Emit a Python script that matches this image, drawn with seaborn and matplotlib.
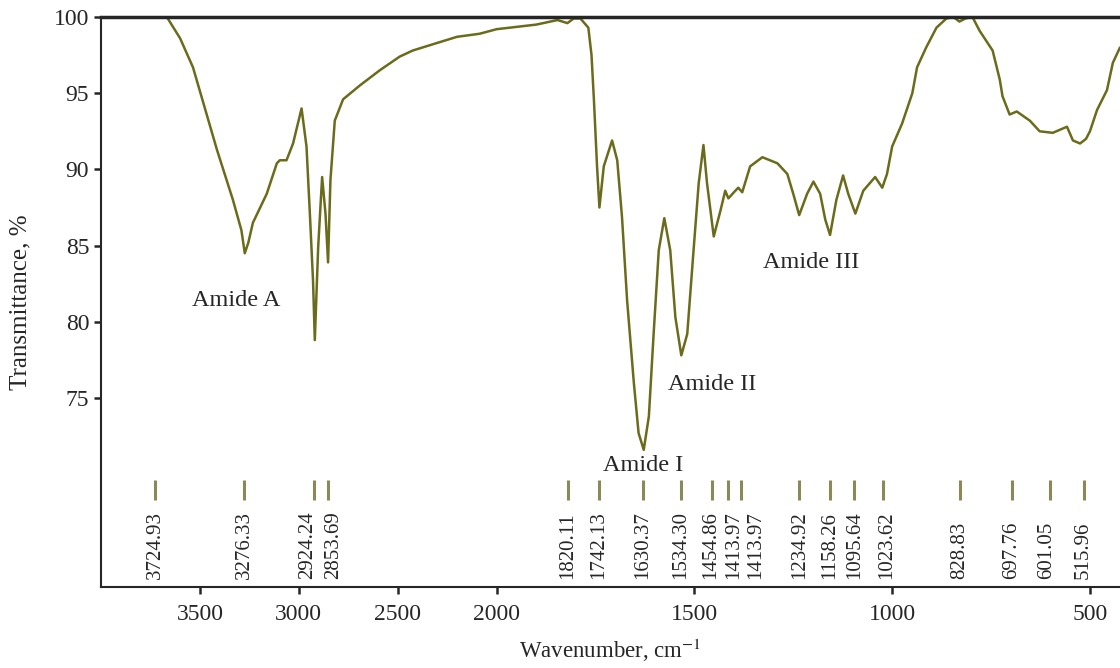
import numpy as np
import pandas as pd
import matplotlib
matplotlib.use("Agg")
import matplotlib.pyplot as plt
import seaborn as sns

# FTIR spectrum (wavenumber, cm-1 / transmittance, %)
wavenumber = [4000, 3800, 3667, 3600, 3535, 3470, 3414, 3333, 3290, 3273, 3255, 3232,
              3162, 3111, 3096, 3062, 3029, 2986, 2961, 2944, 2928, 2919, 2902, 2882,
              2865, 2852, 2840, 2818, 2776, 2692, 2591, 2490, 2424, 2300,
              2200, 2086, 2000, 1900, 1846, 1821, 1805, 1788, 1768, 1760, 1754, 1746,
              1740, 1729, 1708, 1695, 1683, 1670, 1653, 1641, 1628, 1615, 1603, 1590,
              1576, 1561, 1548, 1533, 1518, 1502, 1489, 1477, 1468, 1451, 1434, 1422,
              1414, 1400, 1389, 1379, 1359, 1328, 1290, 1265, 1250, 1235, 1215, 1199,
              1182, 1169, 1157, 1141, 1124, 1111, 1093, 1073, 1043, 1025, 1013, 1000,
              975, 949, 937, 914, 888, 863, 845, 830, 815, 797, 779, 746, 728, 721,
              703, 685, 652, 627, 594, 558, 543, 525, 510, 500, 482, 457, 442, 424]
transmittance = [100.0, 100.0, 100.0, 98.6, 96.7, 93.8, 91.3, 88.0, 86.0, 84.5, 85.2, 86.5,
                 88.4, 90.4, 90.6, 90.6, 91.7, 94.0, 91.5, 87.1, 82.7, 78.8, 84.9, 89.5,
                 87.1, 83.9, 89.3, 93.2, 94.6, 95.5, 96.5, 97.4, 97.8, 98.3,
                 98.7, 98.9, 99.2, 99.5, 99.8, 99.6, 99.9, 99.9, 99.3, 97.5, 94.6, 90.2,
                 87.5, 90.2, 91.9, 90.6, 86.9, 81.4, 76.0, 72.7, 71.6, 73.8, 79.2, 84.7,
                 86.8, 84.7, 80.3, 77.8, 79.2, 84.7, 89.1, 91.6, 89.1, 85.6, 87.3, 88.6,
                 88.1, 88.5, 88.8, 88.5, 90.2, 90.8, 90.4, 89.7, 88.4, 87.0, 88.4, 89.2,
                 88.4, 86.7, 85.7, 88.0, 89.6, 88.4, 87.1, 88.6, 89.5, 88.8, 89.7, 91.5,
                 93.0, 95.0, 96.7, 98.0, 99.3, 99.9, 100.0, 99.7, 99.9, 100.0, 99.1, 97.8,
                 95.9, 94.8, 93.6, 93.8, 93.2, 92.5, 92.4, 92.8, 91.9, 91.7, 92.0, 92.5,
                 93.9, 95.2, 97.0, 98.0]

peak_pos = [3724.93, 3276.33, 2924.24, 2853.69, 1820.11, 1742.13, 1630.37, 1534.30,
            1454.86, 1413.97, 1382.0, 1234.92, 1158.26, 1095.64, 1023.62, 828.83,
            697.76, 601.05, 515.96]
peak_labels = ["3724.93", "3276.33", "2924.24", "2853.69", "1820.11", "1742.13",
               "1630.37", "1534.30", "1454.86", "1413.97", "1413.97", "1234.92",
               "1158.26", "1095.64", "1023.62", "828.83", "697.76", "601.05", "515.96"]

band_names = ["Amide A", "Amide I", "Amide II", "Amide III"]
band_x = [3318, 1629, 1455, 1205]
band_y = [81.4, 70.6, 75.9, 83.9]

df = pd.DataFrame({"wn": wavenumber, "T": transmittance})

sns.set_style("ticks")
plt.rcParams["font.family"] = ["Liberation Serif", "DejaVu Serif"]
plt.rcParams["mathtext.fontset"] = "stix"

fig = plt.figure(figsize=(11.2, 6.68), dpi=100)
ax = fig.add_axes([101 / 1120, 1 - 587 / 668, 1 - 101 / 1120, (587 - 17) / 668])


# wavenumber axis is compressed by half above 2000 cm-1
def fwd(x):
    x = np.asarray(x, dtype=float)
    return np.where(x > 2000, 2000 + (x - 2000) / 2, x)


def inv(t):
    t = np.asarray(t, dtype=float)
    return np.where(t > 2000, 2000 + (t - 2000) * 2, t)


ax.set_xscale("function", functions=(fwd, inv))

sns.lineplot(data=df, x="wn", y="T", ax=ax, color="#6b6b1c", linewidth=1.8,
             estimator=None, sort=False)

ax.vlines(peak_pos, 68.3, 69.6, color="#8a8a58", linewidth=2.2)

# nudge crowded labels sideways (pixels)
nudge = {2: -6, 3: 6, 8: -2, 9: 5, 10: 15, 14: 4, 17: -3}
for i, (p, lab) in enumerate(zip(peak_pos, peak_labels)):
    ax.annotate(lab, xy=(p, 63.1), xytext=(nudge.get(i, 0), 0),
                textcoords="offset pixels", rotation=90,
                ha="center", va="bottom", fontsize=15)

for name, bx, by in zip(band_names, band_x, band_y):
    ax.text(bx, by, name, ha="center", va="center", fontsize=17.5)

ax.set_xlim(4000, 424)
ax.set_ylim(62.6, 100)
ax.set_xticks([3500, 3000, 2500, 2000, 1500, 1000, 500])
ax.set_yticks([75, 80, 85, 90, 95, 100])
ax.tick_params(axis="both", labelsize=17, length=5, width=1.8, direction="out")
ax.tick_params(axis="x", pad=7)

ax.set_xlabel("Wavenumber, cm$^{-1}$", fontsize=16.5, labelpad=9)
ax.set_ylabel("Transmittance, %", fontsize=18, labelpad=16)

for s in ["left", "bottom"]:
    ax.spines[s].set_linewidth(1.5)
ax.spines["top"].set_linewidth(2.5)
ax.spines["right"].set_visible(False)

fig.savefig("out.png", dpi=100)
